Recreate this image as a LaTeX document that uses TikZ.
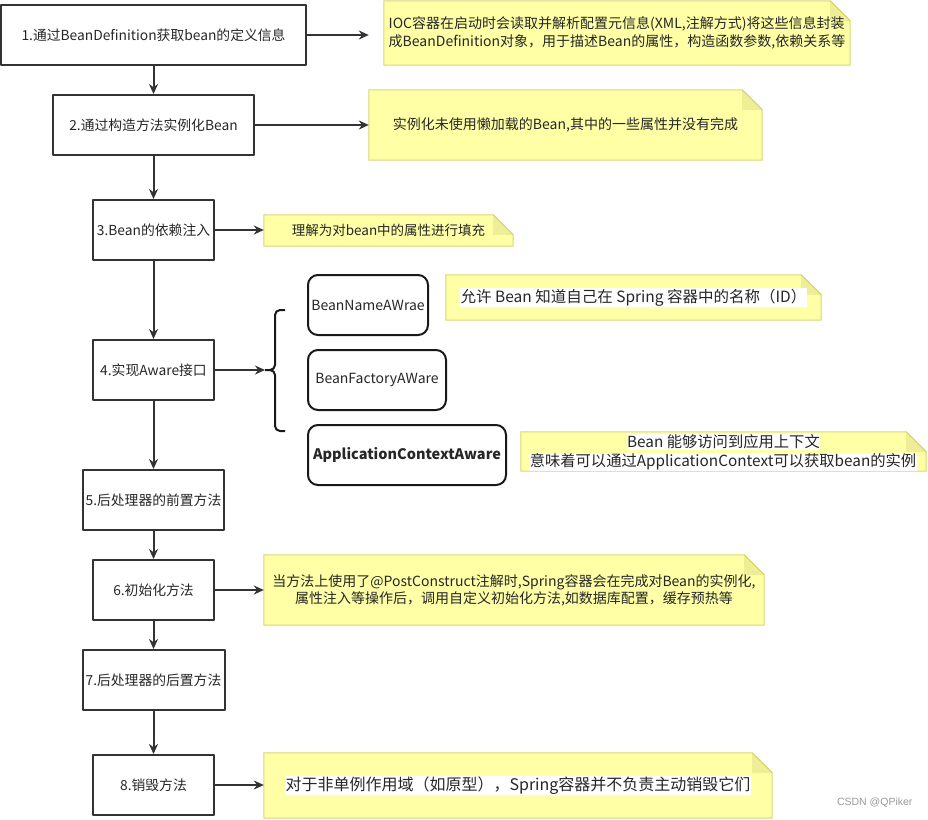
\documentclass[tikz,border=0pt]{standalone}
\usepackage{fontspec}
\setmainfont{Noto Sans CJK SC}
\newfontfamily\wmfont{Liberation Sans}
\usetikzlibrary{arrows.meta,calc,backgrounds,positioning}
\definecolor{notefill}{RGB}{255,255,166}
\definecolor{noteline}{RGB}{214,214,120}
\definecolor{notefold}{RGB}{238,238,150}
\definecolor{lineclr}{RGB}{51,51,51}
\tikzset{
  stepbox/.style={draw=lineclr,line width=2pt,inner sep=0pt,minimum height=60pt,text=black!85,font=\fontsize{13.8}{16}\selectfont},
  awarebox/.style={draw=black!90,line width=2pt,rounded corners=10pt,inner sep=0pt,minimum height=60pt,text=black!85,font=\fontsize{14}{17}\selectfont},
  notebox/.style={inner sep=0pt,align=center,text=black!85,font=\fontsize{14}{17}\selectfont},
  hltext/.style={fill=white,inner sep=0.5pt,text=black!85,font=\fontsize{15.5}{19}\selectfont},
  flow/.style={-{Stealth[length=10pt,width=9pt]},draw=lineclr,line width=2pt}
}

\begin{document}
\begin{tikzpicture}[x=1pt,y=-1pt,line join=round]
		\useasboundingbox (0,0) rectangle (928,819);
		\node[stepbox,minimum width=305pt] (s1) at (153.5,35) {1.通过BeanDefinition获取bean的定义信息};
		\node[stepbox,minimum width=201pt] (s2) at (153.5,125) {2.通过构造方法实例化Bean};
		\node[stepbox,minimum width=121pt] (s3) at (153.5,230) {3.Bean的依赖注入};
		\node[stepbox,minimum width=121pt] (s4) at (153.5,370) {4.实现Aware接口};
		\node[stepbox,minimum width=141pt] (s5) at (153.5,500) {5.后处理器的前置方法};
		\node[stepbox,minimum width=121pt] (s6) at (153.5,590) {6.初始化方法};
		\node[stepbox,minimum width=142pt] (s7) at (153.5,680) {7.后处理器的后置方法};
		\node[stepbox,minimum width=121pt] (s8) at (153.5,785) {8.销毁方法};
		\node[awarebox,minimum width=120pt] (a1) at (368,305) {BeanNameAWrae};
		\node[awarebox,minimum width=138pt] (a2) at (377,380) {BeanFactoryAWare};
		\node[awarebox,minimum width=198pt,font=\fontsize{14.5}{17}\selectfont\bfseries] (a3) at (407,455) {ApplicationContextAware};
		\node[notebox,align=left,minimum width=466pt,minimum height=64pt,font=\fontsize{14}{18}\selectfont] (n1) at (617,33) {IOC容器在启动时会读取并解析配置元信息(XML,注解方式)将这些信息封装\\成BeanDefinition对象，用于描述Bean的属性，构造函数参数,依赖关系等};
		\node[notebox,minimum width=393pt,minimum height=70pt] (n2) at (565.5,125) {实例化未使用懒加载的Bean,其中的一些属性并没有完成};
		\node[notebox,minimum width=249pt,minimum height=31pt,font=\fontsize{13.5}{16}\selectfont] (n3) at (388.5,230.5) {理解为对bean中的属性进行填充};
		\node[notebox,minimum width=375pt,minimum height=45pt] (n4) at (633.5,297.5) {};
		\node[hltext] (t4) at (n4) {允许 Bean 知道自己在 Spring 容器中的名称（ID）};
		\node[notebox,minimum width=405pt,minimum height=39pt] (n5) at (723.5,451.5) {};
		\node[hltext,font=\fontsize{15.3}{18}\selectfont] (t5a) at (723.5,442) {Bean 能够访问到应用上下文};
		\node[hltext,font=\fontsize{15.3}{18}\selectfont] (t5b) at (723,462) {意味着可以通过ApplicationContext可以获取bean的实例};
		\node[notebox,minimum width=500pt,minimum height=70pt] (n6) at (514,590) {当方法上使用了@PostConstruct注解时,Spring容器会在完成对Bean的实例化,\\属性注入等操作后，调用自定义初始化方法,如数据库配置，缓存预热等};
		\node[notebox,minimum width=508pt,minimum height=65pt] (n8) at (518,785.5) {};
		\node[hltext,font=\fontsize{16}{19}\selectfont] (t8) at (n8) {对于非单例作用域（如原型），Spring容器并不负责主动销毁它们};
		\node[font=\wmfont\fontsize{10.5}{12}\selectfont,text=gray!80,anchor=east] (wm) at (916,803) {CSDN @QPiker};
		\begin{scope}[on background layer]
		\foreach \n in {n1,n2,n3,n4,n5,n6,n8}{
			\filldraw[fill=notefill,draw=noteline,line width=1pt] (\n.south west) -- (\n.north west) -- ([xshift=-20pt]\n.north east) -- ([yshift=-20pt]\n.north east) -- (\n.south east) -- cycle;
			\fill[notefold] ([xshift=-20pt]\n.north east) -- ([xshift=-20pt,yshift=-20pt]\n.north east) -- ([yshift=-20pt]\n.north east) -- cycle;
			\draw[noteline,line width=1pt] ([xshift=-20pt]\n.north east) -- ([yshift=-20pt]\n.north east);}
		\end{scope}
		\foreach \a/\b in {s1/s2,s2/s3,s3/s4,s4/s5,s5/s6,s6/s7,s7/s8}{\draw[flow] (\a) -- (\b);}
		\draw[flow,shorten >=15pt] (s1.east) -- (s1.east -| n1.west);
		\foreach \a/\b in {s2/n2,s3/n3,s6/n6,s8/n8}{\draw[flow] (\a.east) -- (\a.east -| \b.west);}
		\coordinate (brtip) at (265,370);
		\draw[flow] (s4.east) -- (brtip);
		\draw[draw=black!90,line width=2pt,rounded corners=5pt] (285,310) -- (275,310) -- (275,370) -- (brtip) (brtip) -- (275,370) -- (275,431) -- (285,431);
\end{tikzpicture}
\end{document}
